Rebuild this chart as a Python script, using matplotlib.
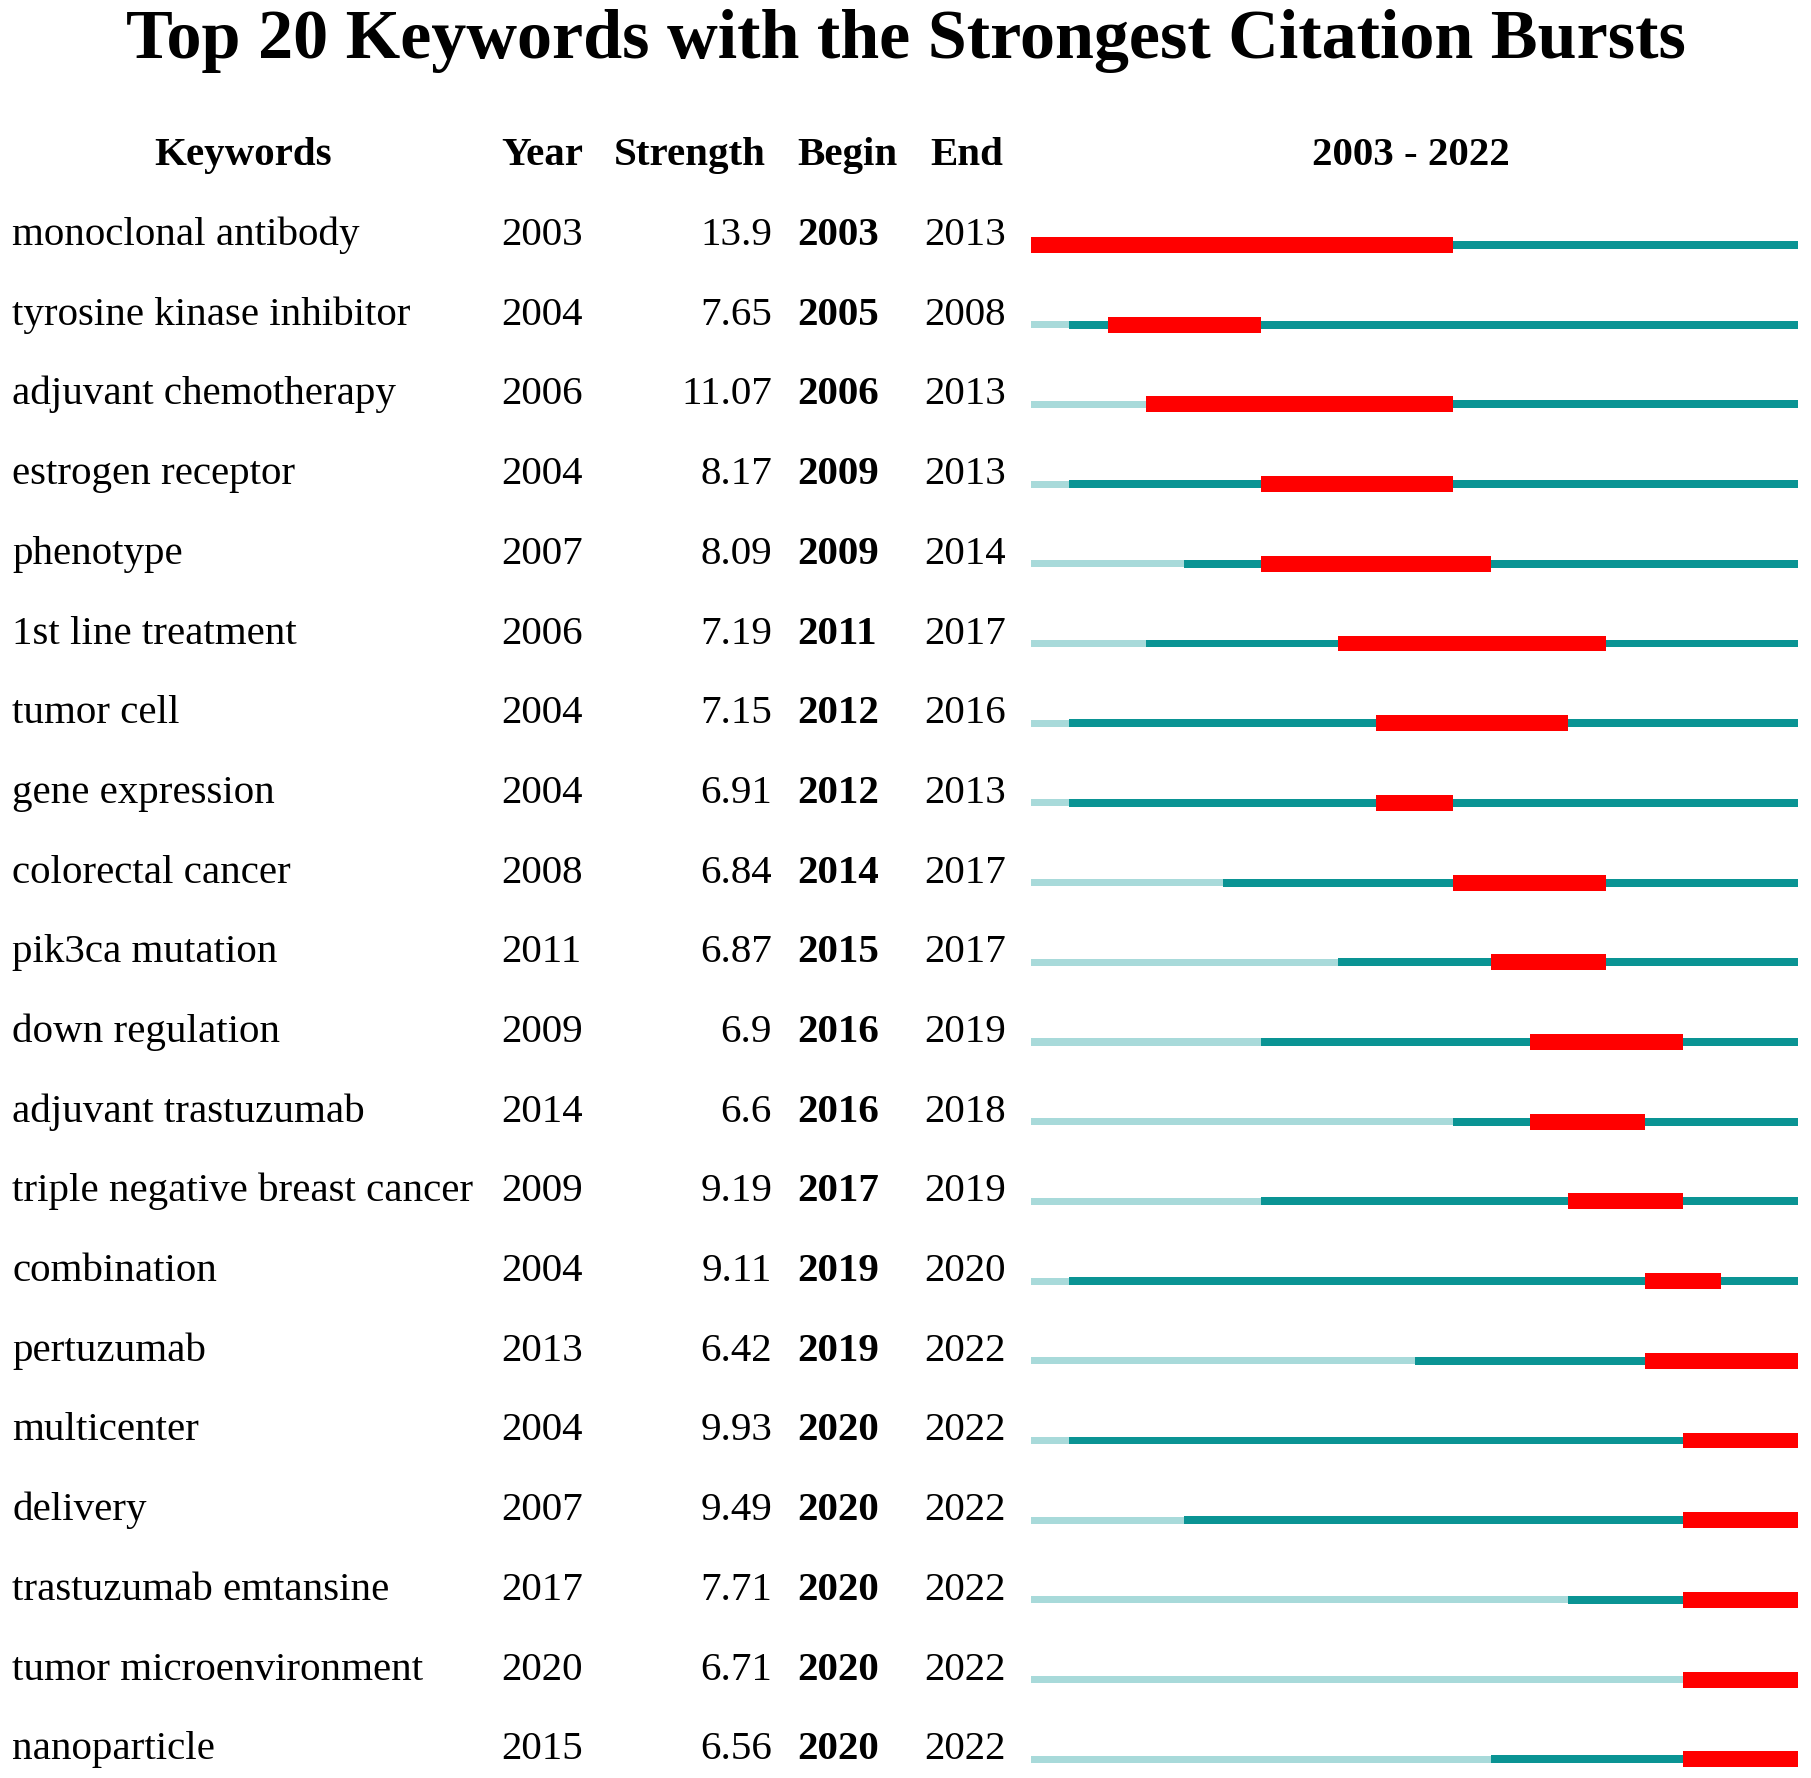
import matplotlib
matplotlib.use('Agg')
import matplotlib.pyplot as plt

keywords = ['monoclonal antibody', 'tyrosine kinase inhibitor', 'adjuvant chemotherapy',
            'estrogen receptor', 'phenotype', '1st line treatment', 'tumor cell',
            'gene expression', 'colorectal cancer', 'pik3ca mutation', 'down regulation',
            'adjuvant trastuzumab', 'triple negative breast cancer', 'combination',
            'pertuzumab', 'multicenter', 'delivery', 'trastuzumab emtansine',
            'tumor microenvironment', 'nanoparticle']
years = [2003, 2004, 2006, 2004, 2007, 2006, 2004, 2004, 2008, 2011,
         2009, 2014, 2009, 2004, 2013, 2004, 2007, 2017, 2020, 2015]
strengths = ['13.9', '7.65', '11.07', '8.17', '8.09', '7.19', '7.15', '6.91', '6.84', '6.87',
             '6.9', '6.6', '9.19', '9.11', '6.42', '9.93', '9.49', '7.71', '6.71', '6.56']
begins = [2003, 2005, 2006, 2009, 2009, 2011, 2012, 2012, 2014, 2015,
          2016, 2016, 2017, 2019, 2019, 2020, 2020, 2020, 2020, 2020]
ends = [2013, 2008, 2013, 2013, 2014, 2017, 2016, 2013, 2017, 2017,
        2019, 2018, 2019, 2020, 2022, 2022, 2022, 2022, 2022, 2022]
first_year, last_year = 2003, 2022

RED = '#ff0000'
TEAL = '#0a9494'
LIGHT = '#a8dada'


def main() -> None:
    plt.rcParams['font.family'] = ['Liberation Serif', 'DejaVu Serif']
    fig = plt.figure(figsize=(18.11, 17.78), dpi=100)

    # rows are 79.7 px apart, row 0 baseline 245 px below the top
    row_px = 79.7
    top = -245 / row_px
    bottom = (1778 - 245) / row_px

    ax = fig.add_axes([0, 0, 1, 1])
    ax.set_xlim(0, 1)
    ax.set_ylim(bottom, top)
    ax.axis('off')

    bx = fig.add_axes([1031 / 1811, 0, 767 / 1811, 1])
    bx.set_xlim(first_year, last_year + 1)
    bx.set_ylim(bottom, top)
    bx.axis('off')

    tr = ax.get_yaxis_transform()
    fs = 29.5
    ax.text(0.5, -2.35, 'Top 20 Keywords with the Strongest Citation Bursts', transform=tr,
            ha='center', va='baseline', fontsize=50.5, fontweight='bold')

    hy = -1
    ax.text(243 / 1811, hy, 'Keywords', transform=tr, ha='center', va='baseline',
            fontsize=fs, fontweight='bold')
    ax.text(501 / 1811, hy, 'Year', transform=tr, ha='left', va='baseline',
            fontsize=fs, fontweight='bold')
    ax.text(614 / 1811, hy, 'Strength', transform=tr, ha='left', va='baseline',
            fontsize=fs, fontweight='bold')
    ax.text(797 / 1811, hy, 'Begin', transform=tr, ha='left', va='baseline',
            fontsize=fs, fontweight='bold')
    ax.text(930 / 1811, hy, 'End', transform=tr, ha='left', va='baseline',
            fontsize=fs, fontweight='bold')
    ax.text(1411 / 1811, hy, f'{first_year} - {last_year}', transform=tr, ha='center',
            va='baseline', fontsize=fs, fontweight='bold')

    for i, kw in enumerate(keywords):
        ax.text(12 / 1811, i, kw, transform=tr, ha='left', va='baseline', fontsize=fs)
        ax.text(501 / 1811, i, str(years[i]), transform=tr, ha='left', va='baseline', fontsize=fs)
        ax.text(772 / 1811, i, strengths[i], transform=tr, ha='right', va='baseline', fontsize=fs)
        ax.text(797 / 1811, i, str(begins[i]), transform=tr, ha='left', va='baseline',
                fontsize=fs, fontweight='bold')
        ax.text(924 / 1811, i, str(ends[i]), transform=tr, ha='left', va='baseline', fontsize=fs)

        if years[i] > first_year:
            bx.barh(i, years[i] - first_year, left=first_year, height=0.088, color=LIGHT)
        bx.barh(i, last_year + 1 - years[i], left=years[i], height=0.1, color=TEAL)
        bx.barh(i, ends[i] + 1 - begins[i], left=begins[i], height=0.2, color=RED)

    fig.savefig('out.png', dpi=100)


if __name__ == '__main__':
    main()
